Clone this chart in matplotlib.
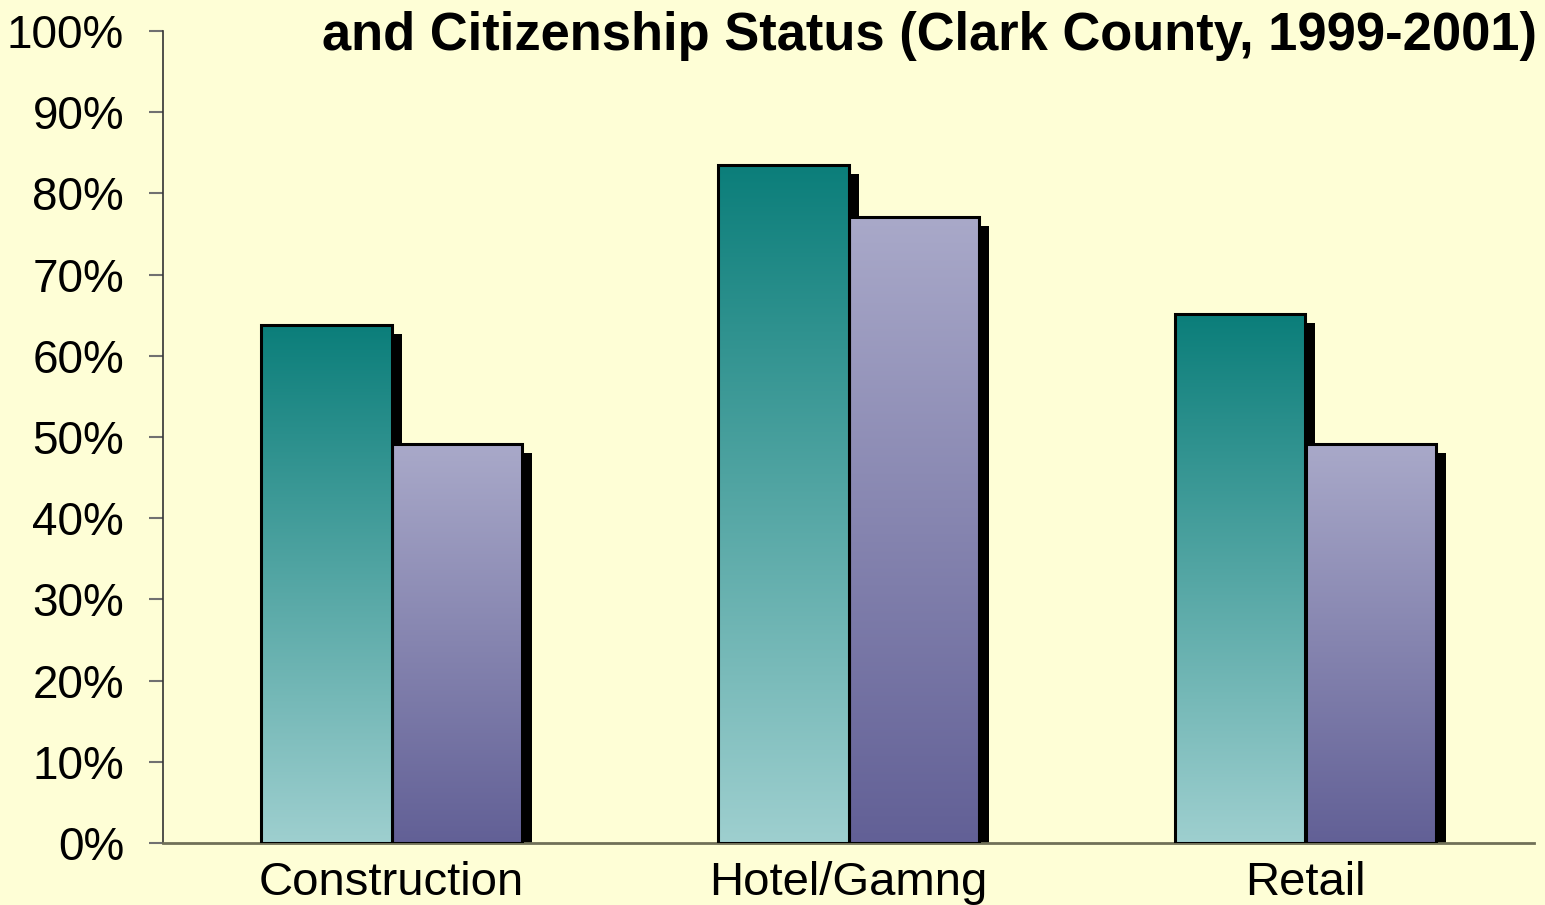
import numpy as np
import matplotlib
matplotlib.use("Agg")
import matplotlib.pyplot as plt
from matplotlib.colors import LinearSegmentedColormap
from matplotlib.transforms import ScaledTranslation
from matplotlib.ticker import PercentFormatter

categories = ["Construction", "Hotel/Gamng", "Retail"]
series_a = [63.8, 83.5, 65.1]
series_b = [49.1, 77.1, 49.1]

plt.rcParams['font.family'] = ['Liberation Sans', 'DejaVu Sans']
bg = '#FEFED6'

fig = plt.figure(figsize=(15.45, 9.05), dpi=100, facecolor=bg)
ax = fig.add_axes([163 / 1545, 1 - 843 / 905, (1534 - 163) / 1545, (843 - 31) / 905])
ax.set_facecolor(bg)

x = np.arange(len(categories))
w = 0.285

teal = LinearSegmentedColormap.from_list('teal', ['#9ECFCF', '#0B7E7A'])
purple = LinearSegmentedColormap.from_list('purple', ['#626096', '#A9A9C9'])

# drop shadows, shifted right and down in screen space
shift = ax.transData + ScaledTranslation(0.10, -0.09, fig.dpi_scale_trans)
for vals, off in ((series_a, -w / 2), (series_b, w / 2)):
    sh = ax.bar(x + off, vals, w, color='black', linewidth=0, zorder=1)
    for p in sh:
        p.set_transform(shift)

# gradient fills with black outlines on top
grad = np.linspace(0, 1, 256).reshape(-1, 1)
for vals, off, cmap, z in ((series_b, w / 2, purple, 2), (series_a, -w / 2, teal, 4)):
    bars = ax.bar(x + off, vals, w, facecolor='none', edgecolor='black',
                  linewidth=2.2, zorder=z + 1)
    for b in bars:
        x0, y0 = b.get_x(), b.get_y()
        im = ax.imshow(grad, cmap=cmap, origin='lower', aspect='auto',
                       extent=[x0, x0 + b.get_width(), y0, y0 + b.get_height()],
                       zorder=z)
        im.set_clip_path(b)

ax.set_xlim(-0.5, 2.5)
ax.set_ylim(0, 100)
ax.set_yticks(np.arange(0, 101, 10))
ax.yaxis.set_major_formatter(PercentFormatter(decimals=0))
ax.set_xticks(x)
ax.set_xticklabels(categories)

for s in ('top', 'right'):
    ax.spines[s].set_visible(False)
ax.spines['left'].set_color('#333333')
ax.spines['left'].set_linewidth(1.2)
ax.spines['bottom'].set_color('#707058')
ax.spines['bottom'].set_linewidth(2)
ax.tick_params(axis='y', length=10, width=1.5, color='#707070',
               labelsize=33, pad=18)
ax.tick_params(axis='x', length=0, labelsize=34, pad=13)

fig.text(1537 / 1545, 1 - 50 / 905,
         "and Citizenship Status (Clark County, 1999-2001)",
         ha='right', va='baseline', fontsize=37.8, fontweight='bold')

fig.savefig('out.png', dpi=100, facecolor=bg)
